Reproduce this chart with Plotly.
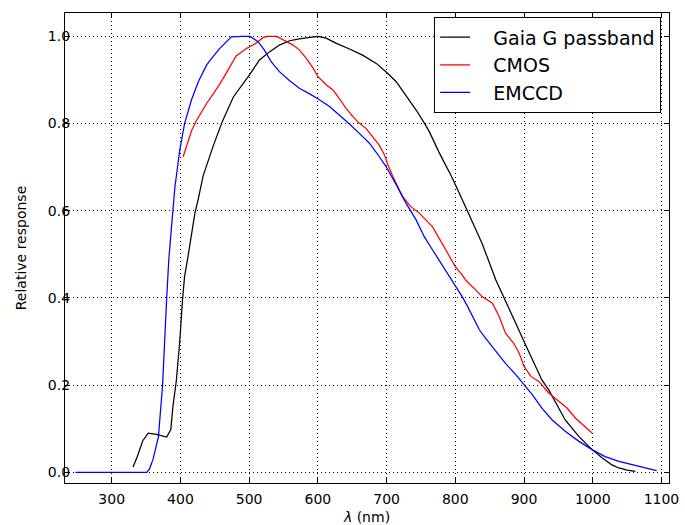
import plotly.graph_objects as go

# Gaia G passband (relative response vs wavelength in nm)
gaia_wl = [331, 337, 345, 353, 365, 380, 386, 389, 394, 399, 403, 406, 411, 418, 421,
           426, 433, 448, 461, 477, 491, 501, 515, 530, 544, 559, 573, 588, 600, 612,
           627, 646, 665, 685, 699, 714, 728, 743, 755, 762, 776, 796, 816, 839, 859,
           873, 888, 900, 912, 926, 936, 946, 960, 980, 999, 1014, 1028, 1038, 1050, 1062]
gaia_resp = [0.012, 0.035, 0.072, 0.090, 0.087, 0.081, 0.098, 0.150, 0.210, 0.300, 0.395,
             0.449, 0.495, 0.565, 0.594, 0.627, 0.680, 0.750, 0.805, 0.861, 0.890, 0.913,
             0.946, 0.965, 0.980, 0.990, 0.994, 0.998, 1.000, 0.996, 0.984, 0.971, 0.957,
             0.938, 0.919, 0.896, 0.866, 0.831, 0.801, 0.782, 0.735, 0.674, 0.605, 0.525,
             0.441, 0.395, 0.342, 0.300, 0.258, 0.212, 0.189, 0.159, 0.120, 0.082, 0.052,
             0.033, 0.017, 0.010, 0.005, 0.002]

# CMOS quantum efficiency, normalised
cmos_wl = [404, 409, 416, 423, 431, 438, 443, 448, 457, 469, 478, 481, 496, 510, 520, 527,
           540, 552, 564, 573, 583, 593, 600, 612, 622, 631, 641, 651, 660, 670, 680, 689,
           697, 702, 709, 716, 723, 735, 748, 767, 781, 800, 810, 815, 830, 839, 854, 864,
           873, 885, 893, 900, 910, 922, 936, 951, 963, 975, 989, 999]
cmos_resp = [0.724, 0.750, 0.783, 0.806, 0.829, 0.846, 0.857, 0.869, 0.890, 0.922, 0.945,
             0.955, 0.972, 0.984, 0.997, 1.000, 1.000, 0.990, 0.980, 0.969, 0.950, 0.927,
             0.908, 0.889, 0.877, 0.858, 0.835, 0.816, 0.801, 0.789, 0.770, 0.751, 0.728,
             0.705, 0.679, 0.656, 0.633, 0.610, 0.594, 0.563, 0.525, 0.472, 0.453, 0.441,
             0.418, 0.403, 0.388, 0.357, 0.319, 0.296, 0.273, 0.243, 0.220, 0.208, 0.182,
             0.162, 0.147, 0.124, 0.105, 0.090]

# EMCCD quantum efficiency, normalised
emccd_wl = [247, 300, 351, 355, 360, 368, 374, 380, 383, 387, 392, 399, 406, 416, 426, 438,
            443, 457, 474, 490, 501, 513, 522, 532, 544, 559, 573, 588, 600, 617, 631, 646,
            660, 675, 689, 699, 714, 728, 743, 755, 767, 798, 810, 818, 825, 835, 844, 859,
            873, 888, 900, 912, 926, 941, 960, 980, 999, 1018, 1038, 1067, 1093]
emccd_resp = [0.0, 0.0, 0.0, 0.008, 0.029, 0.082, 0.200, 0.400, 0.487, 0.563, 0.655, 0.739,
              0.800, 0.854, 0.896, 0.934, 0.945, 0.972, 0.999, 1.000, 1.000, 0.988, 0.969,
              0.942, 0.919, 0.898, 0.881, 0.868, 0.857, 0.839, 0.820, 0.799, 0.778, 0.755,
              0.725, 0.702, 0.660, 0.618, 0.579, 0.540, 0.510, 0.435, 0.403, 0.380, 0.357,
              0.327, 0.308, 0.277, 0.250, 0.224, 0.200, 0.178, 0.147, 0.120, 0.094, 0.071,
              0.052, 0.036, 0.025, 0.0135, 0.004]

x_ticks = [300, 400, 500, 600, 700, 800, 900, 1000, 1100]
y_ticks = [0.0, 0.2, 0.4, 0.6, 0.8, 1.0]

FONT = "DejaVu Sans"
PAD = "\u00a0\u00a0\u00a0"

fig = go.Figure()
for name, wl, resp, color in [
    ("Gaia G passband", gaia_wl, gaia_resp, "black"),
    ("CMOS", cmos_wl, cmos_resp, "red"),
    ("EMCCD", emccd_wl, emccd_resp, "blue"),
]:
    fig.add_trace(go.Scatter(x=wl, y=resp, mode="lines", name=PAD + name,
                             line=dict(color=color, width=1.25)))

axis_common = dict(
    showline=True, linecolor="black", linewidth=1.2, mirror="allticks",
    ticks="inside", ticklen=5, tickcolor="black", tickwidth=1,
    showgrid=True, gridcolor="black", gridwidth=0.8, griddash="1px,3px",
    zeroline=False, automargin=False,
    tickfont=dict(family=FONT, size=14, color="black"),
)

fig.update_xaxes(range=[232, 1111], tickvals=x_ticks, ticklabelstandoff=3,
                 title=dict(text="<i>λ</i> (nm)", standoff=8,
                            font=dict(family=FONT, size=14, color="black")),
                 **axis_common)
fig.update_yaxes(range=[-0.0245, 1.0536], tickvals=y_ticks, tickformat=".1f",
                 ticklabelstandoff=-9,
                 title=dict(text="Relative response", standoff=17,
                            font=dict(family=FONT, size=14, color="black")),
                 **axis_common)

fig.update_layout(
    width=685, height=525,
    margin=dict(l=65, r=16, t=13, b=42),
    paper_bgcolor="white", plot_bgcolor="white",
    font=dict(family=FONT, color="black"),
    legend=dict(x=0.987, xanchor="right", y=0.991, yanchor="top",
                bgcolor="white", bordercolor="black", borderwidth=1,
                font=dict(family=FONT, size=19, color="black")),
)

fig.write_html("out.html")
